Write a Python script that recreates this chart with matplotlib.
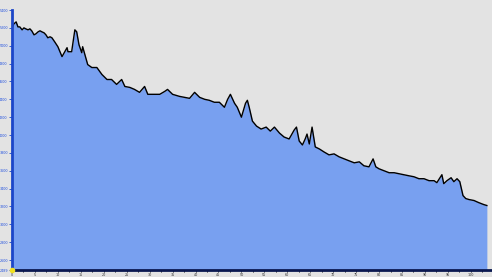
import matplotlib
matplotlib.use("Agg")
import matplotlib.pyplot as plt
from matplotlib.ticker import MultipleLocator

# distance along route (km) and elevation (m)
dist_km = [0.0, 0.4, 0.9, 1.3, 1.7, 2.2, 2.6, 3.0, 3.5, 3.9, 4.3, 4.8, 5.2, 5.7,
           6.1, 6.5, 7.0, 7.4, 7.8, 8.3, 8.7, 9.3, 10.0, 10.9, 11.5, 12.0, 12.2,
           13.0, 13.7, 14.1, 14.6, 15.2, 15.4, 15.9, 16.5, 17.4, 18.5, 19.6,
           20.7, 21.7, 22.8, 23.9, 24.6, 25.7, 26.7, 27.8, 28.9, 29.6, 32.2,
           33.3, 33.9, 35.0, 36.5, 37.6, 38.7, 39.8, 40.9, 42.0, 43.0, 44.1,
           45.2, 46.3, 47.0, 47.6, 48.5, 49.1, 50.0, 50.9, 51.3, 51.7, 52.4,
           53.3, 54.3, 55.4, 56.3, 57.2, 58.3, 59.3, 60.4, 61.5, 62.0, 62.6,
           63.3, 63.9, 64.3, 64.8, 65.4, 66.1, 67.0, 68.0, 69.1, 70.2, 71.3,
           72.4, 73.5, 74.6, 75.7, 76.7, 77.8, 78.7, 79.3, 80.0, 81.1, 82.2,
           83.3, 84.3, 85.4, 86.5, 87.6, 88.7, 89.8, 90.9, 92.0, 92.6, 93.7,
           94.1, 94.8, 95.7, 96.3, 97.0, 97.6, 98.3, 98.9, 99.6, 100.7, 101.7,
           102.8, 103.5]
elev_m = [5200, 5244, 5267, 5211, 5211, 5178, 5200, 5189, 5178, 5189, 5167,
          5122, 5133, 5156, 5167, 5156, 5144, 5122, 5089, 5100, 5089, 5044,
          4989, 4878, 4933, 4978, 4933, 4933, 5178, 5156, 5011, 4922, 4989,
          4900, 4789, 4756, 4756, 4678, 4622, 4622, 4567, 4622, 4544, 4533,
          4511, 4478, 4544, 4456, 4456, 4489, 4511, 4456, 4433, 4422, 4411,
          4478, 4422, 4400, 4389, 4367, 4367, 4311, 4400, 4456, 4356, 4311,
          4200, 4356, 4389, 4311, 4156, 4100, 4067, 4089, 4044, 4089, 4022,
          3978, 3956, 4056, 4089, 3933, 3889, 3956, 4011, 3900, 4089, 3867,
          3844, 3811, 3778, 3789, 3756, 3733, 3711, 3689, 3700, 3656, 3644,
          3733, 3644, 3622, 3600, 3578, 3578, 3567, 3556, 3544, 3533, 3511,
          3511, 3489, 3489, 3467, 3556, 3456, 3489, 3522, 3478, 3511, 3478,
          3322, 3289, 3278, 3267, 3244, 3222, 3211]

y_ticks = list(range(2600, 5401, 200))
y_min, y_max = 2489, 5456
x_max = 104.4

bg = "#e3e3e3"
fig = plt.figure(figsize=(4.92, 2.77), dpi=100, facecolor=bg)
ax = fig.add_axes((12 / 492, 7 / 277, 479 / 492, 265 / 277), facecolor=bg)

ax.fill_between(dist_km, elev_m, y_min, color="#78a0f0", linewidth=0)
ax.plot(dist_km, elev_m, color="black", linewidth=1)

ax.set_xlim(0, x_max)
ax.set_ylim(y_min, y_max)

for s in ("top", "right"):
    ax.spines[s].set_visible(False)
ax.spines["left"].set_color("#1c46c8")
ax.spines["left"].set_linewidth(2)
ax.spines["left"].set_bounds(y_min, 5400)
ax.spines["bottom"].set_color("#0a1850")
ax.spines["bottom"].set_linewidth(2)

ax.set_yticks(y_ticks + [y_min])
ax.set_yticklabels([str(v) for v in y_ticks] + [str(y_min)])
ax.xaxis.set_major_locator(MultipleLocator(5))
ax.xaxis.set_minor_locator(MultipleLocator(2.5))
ax.tick_params(axis="y", labelsize=2.4, labelcolor="#2050e0", color="#1c46c8",
               length=2, width=0.6, pad=1)
ax.tick_params(axis="x", which="both", labelsize=2.4, labelcolor="#303030",
               color="black", length=1.5, width=0.6, pad=0.3)

ax.plot([0], [y_min], "o", color="#f0e020", markersize=3, clip_on=False, zorder=5)

fig.savefig("out.png", dpi=100, facecolor=bg)
